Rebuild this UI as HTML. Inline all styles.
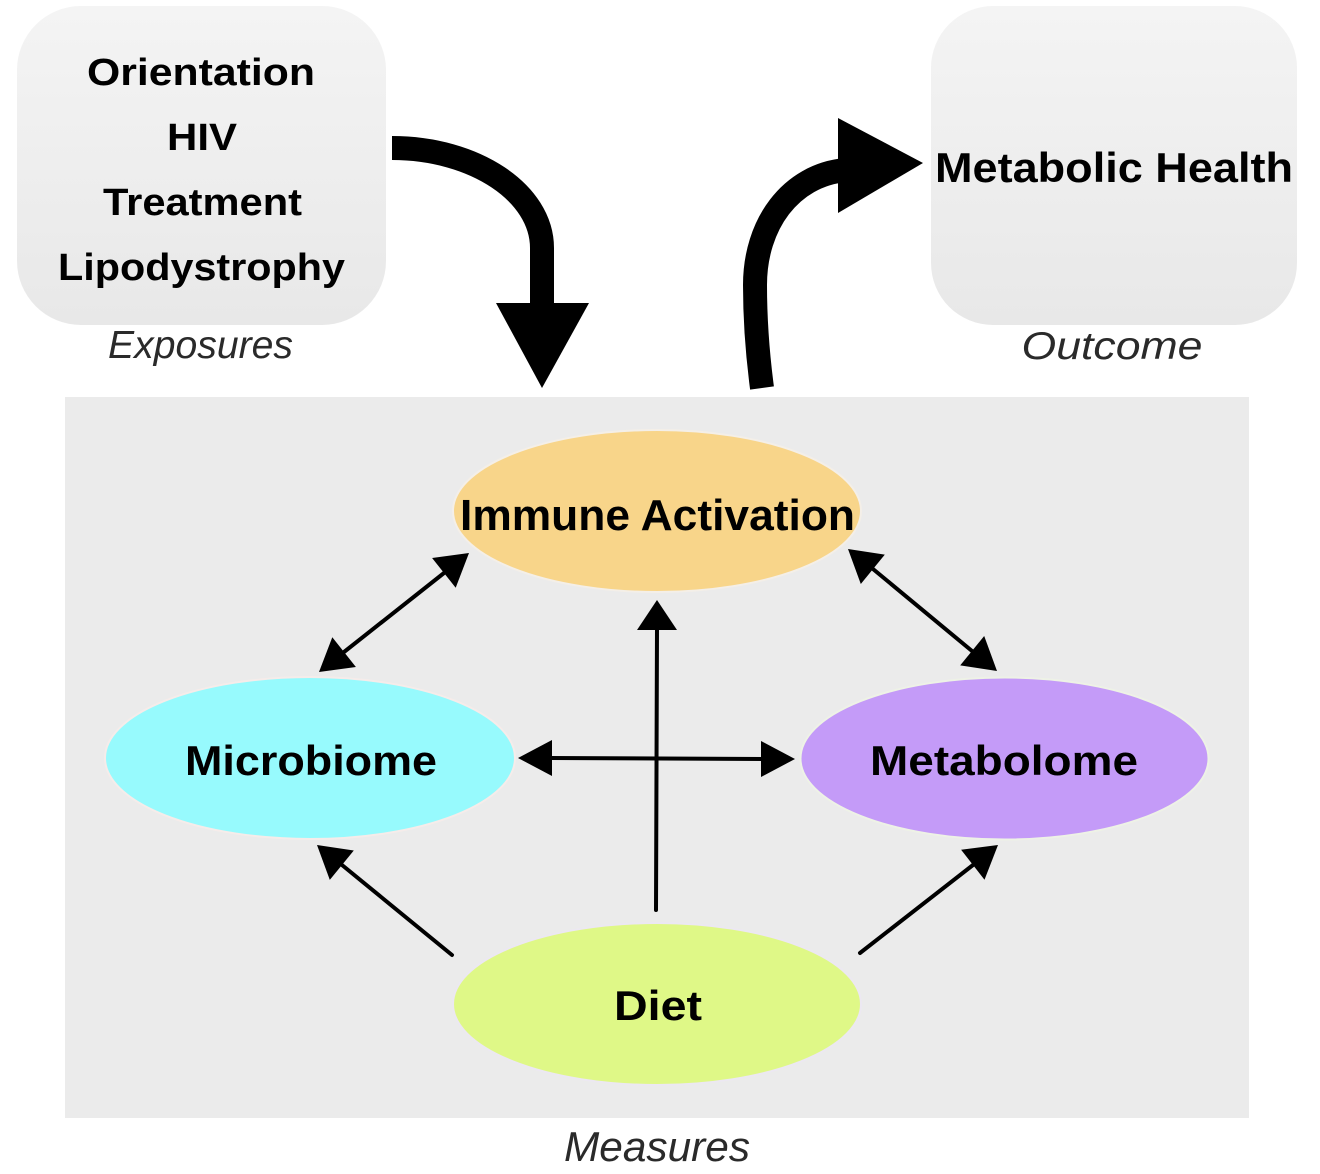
<!DOCTYPE html>
<html>
<head>
<meta charset="utf-8">
<style>
  html, body { margin: 0; padding: 0; background: #ffffff; }
  svg { display: block; }
  .b { font-family: "Liberation Sans", Arial, sans-serif; font-weight: bold; fill: #000; }
  .i { font-family: "Liberation Sans", Arial, sans-serif; font-style: italic; fill: #2a2a2a; }
</style>
</head>
<body>
<svg width="1320" height="1174" viewBox="0 0 1320 1174" xmlns="http://www.w3.org/2000/svg">
  <defs>
    <linearGradient id="g" x1="0" y1="0" x2="0" y2="1">
      <stop offset="0" stop-color="#f4f4f4"/>
      <stop offset="1" stop-color="#e8e8e8"/>
    </linearGradient>
  </defs>
  <rect x="0" y="0" width="1320" height="1174" fill="#ffffff"/>

  <!-- Exposures box -->
  <rect x="17" y="6" width="369" height="319" rx="64" ry="64" fill="url(#g)"/>
  <text class="b" x="201" y="85" font-size="38" text-anchor="middle" textLength="228" lengthAdjust="spacingAndGlyphs">Orientation</text>
  <text class="b" x="202" y="150" font-size="38" text-anchor="middle" textLength="70" lengthAdjust="spacingAndGlyphs">HIV</text>
  <text class="b" x="202.5" y="215" font-size="38" text-anchor="middle" textLength="199" lengthAdjust="spacingAndGlyphs">Treatment</text>
  <text class="b" x="201.5" y="280" font-size="38" text-anchor="middle" textLength="287" lengthAdjust="spacingAndGlyphs">Lipodystrophy</text>
  <text class="i" x="200.5" y="358" font-size="39" text-anchor="middle" textLength="185" lengthAdjust="spacingAndGlyphs">Exposures</text>

  <!-- Outcome box -->
  <rect x="931" y="6" width="366" height="319" rx="62" ry="62" fill="url(#g)"/>
  <text class="b" x="1114" y="182" font-size="42" text-anchor="middle" textLength="358" lengthAdjust="spacingAndGlyphs">Metabolic Health</text>
  <text class="i" x="1112" y="359" font-size="39" text-anchor="middle" textLength="181" lengthAdjust="spacingAndGlyphs">Outcome</text>

  <!-- Big curved arrows -->
  <path d="M392,148 C475,148 542,193 542,248 L542,306" fill="none" stroke="#000" stroke-width="24"/>
  <polygon points="496,303 589,303 542,388" fill="#000"/>

  <path d="M762,388 C757,350 755,320 755,285 C755,225 790,175 846,170" fill="none" stroke="#000" stroke-width="24"/>
  <polygon points="838,118 923,163 838,213" fill="#000"/>

  <!-- Measures area -->
  <rect x="65" y="397" width="1184" height="721" fill="#ebebeb"/>
  <text class="i" x="657" y="1161" font-size="42" text-anchor="middle" textLength="186" lengthAdjust="spacingAndGlyphs">Measures</text>

  <!-- Ellipses -->
  <ellipse cx="657" cy="511" rx="204" ry="81" fill="#f8d58a" stroke="#f4efe8" stroke-width="2"/>
  <ellipse cx="310" cy="758" rx="205" ry="81" fill="#97fafd" stroke="#f6ecea" stroke-width="2"/>
  <ellipse cx="1004.5" cy="758.5" rx="204" ry="81" fill="#c49bf8" stroke="#eef2e6" stroke-width="2"/>
  <ellipse cx="657" cy="1004" rx="204" ry="81" fill="#dff887" stroke="#ece8f2" stroke-width="2"/>

  <text class="b" x="657.5" y="530" font-size="44" text-anchor="middle" textLength="395" lengthAdjust="spacingAndGlyphs">Immune Activation</text>
  <text class="b" x="311" y="775" font-size="42" text-anchor="middle" textLength="252" lengthAdjust="spacingAndGlyphs">Microbiome</text>
  <text class="b" x="1004" y="775" font-size="42" text-anchor="middle" textLength="268" lengthAdjust="spacingAndGlyphs">Metabolome</text>
  <text class="b" x="658" y="1020" font-size="42" text-anchor="middle" textLength="88" lengthAdjust="spacingAndGlyphs">Diet</text>

  <!-- Small arrows -->
  <g stroke="#000" stroke-width="4" stroke-linecap="round" fill="none">
    <line x1="344" y1="652" x2="444" y2="573"/>
    <line x1="873" y1="569" x2="972" y2="651"/>
    <line x1="656" y1="910" x2="657" y2="628"/>
    <line x1="550" y1="758" x2="763" y2="759"/>
    <line x1="452" y1="955" x2="342" y2="865"/>
    <line x1="860" y1="953" x2="973" y2="865"/>
  </g>
  <g fill="#000">
    <!-- top-left double -->
    <polygon points="469,553 455.7,587.8 432.1,558.0"/>
    <polygon points="319,672 355.9,667.0 332.3,637.2"/>
    <!-- top-right double -->
    <polygon points="997,671 960.2,665.4 984.2,636.0"/>
    <polygon points="848,549 860.8,584.0 884.8,554.6"/>
    <!-- vertical -->
    <polygon points="657,600 637,630 677,630"/>
    <!-- horizontal double -->
    <polygon points="518,758 552,740 552,776"/>
    <polygon points="795,759 761,741 761,777"/>
    <!-- bottom-left -->
    <polygon points="317,845 353.8,850.5 329.8,879.9"/>
    <!-- bottom-right -->
    <polygon points="998,845 984.5,879.7 961.1,849.7"/>
  </g>
</svg>
</body>
</html>
